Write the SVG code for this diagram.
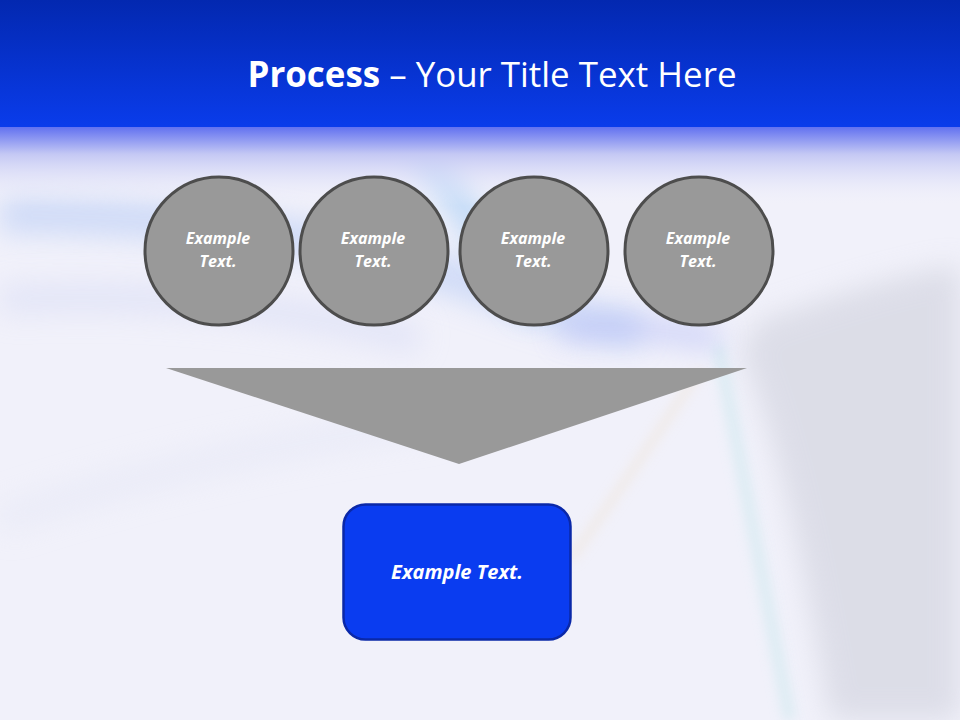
<svg xmlns="http://www.w3.org/2000/svg" width="960" height="720" viewBox="0 0 960 720">
<defs>
<linearGradient id="hdr" x1="0" y1="0" x2="0" y2="1">
<stop offset="0" stop-color="#0328b0"/>
<stop offset="1" stop-color="#0a3ceb"/>
</linearGradient>
<linearGradient id="fade" x1="0" y1="0" x2="0" y2="1">
<stop offset="0" stop-color="#5e6ef0"/>
<stop offset="0.35" stop-color="#c4c8f4"/>
<stop offset="1" stop-color="#f2f2fb" stop-opacity="0"/>
</linearGradient>
<filter id="blur" filterUnits="userSpaceOnUse" x="0" y="0" width="960" height="720"><feGaussianBlur stdDeviation="14"/></filter>
<filter id="blur2" filterUnits="userSpaceOnUse" x="0" y="0" width="960" height="720"><feGaussianBlur stdDeviation="6"/></filter>
<style>
.circ{fill:#999999;stroke:#4d4d4d;stroke-width:3}
.lbl{font-family:"Open Sans","Liberation Sans",sans-serif;font-weight:bold;font-style:italic;fill:#ffffff;text-anchor:middle}
.t15{font-size:16px}
</style>
</defs>
<rect width="960" height="720" fill="#f1f1fa"/>
<g id="background">
<path d="M0,215 C150,215 300,230 430,270 C500,290 560,320 640,330" fill="none" stroke="#bfd0f6" stroke-width="36" opacity="0.7" filter="url(#blur)"/>
<path d="M420,150 C460,200 500,260 540,310" fill="none" stroke="#a6cdf6" stroke-width="28" opacity="0.7" filter="url(#blur)"/>
<path d="M0,300 C150,290 300,310 420,340" fill="none" stroke="#dde0f6" stroke-width="30" opacity="0.7" filter="url(#blur)"/>
<path d="M760,320 C850,290 900,275 960,265 L960,720 L830,720 C810,600 780,440 740,350 Z" fill="#cfd0dc" opacity="0.6" filter="url(#blur)"/>
<path d="M718,345 C735,430 760,560 790,720" fill="none" stroke="#cde8ee" stroke-width="12" opacity="0.6" filter="url(#blur2)"/>
<path d="M700,370 C660,430 620,490 570,560" fill="none" stroke="#efe2d0" stroke-width="8" opacity="0.5" filter="url(#blur2)"/>
<path d="M0,520 C150,470 300,440 440,420" fill="none" stroke="#e6e8f6" stroke-width="30" opacity="0.6" filter="url(#blur)"/>
<path d="M560,330 C620,325 680,330 720,340" fill="none" stroke="#b4bcf6" stroke-width="22" opacity="0.6" filter="url(#blur)"/>
</g>
<rect x="0" y="126" width="960" height="80" fill="url(#fade)"/>
<g id="header">
<rect x="0" y="0" width="960" height="127" fill="url(#hdr)"/>
<text x="492" y="87" font-family="'Open Sans','Liberation Sans',sans-serif" font-size="35" fill="#ffffff" text-anchor="middle" textLength="489" lengthAdjust="spacingAndGlyphs"><tspan font-weight="bold">Process</tspan> – Your Title Text Here</text>
</g>
<g id="connectors">
<polygon id="funnel" points="166,368 747,368 459,464" fill="#999999"/>
</g>
<g id="node1">
<circle class="circ" cx="219" cy="251" r="74"/>
<text class="lbl t15" x="218" y="244">Example</text>
<text class="lbl t15" x="218" y="267">Text.</text>
</g>
<g id="node2">
<circle class="circ" cx="374" cy="251" r="74"/>
<text class="lbl t15" x="373" y="244">Example</text>
<text class="lbl t15" x="373" y="267">Text.</text>
</g>
<g id="node3">
<circle class="circ" cx="534" cy="251" r="74"/>
<text class="lbl t15" x="533" y="244">Example</text>
<text class="lbl t15" x="533" y="267">Text.</text>
</g>
<g id="node4">
<circle class="circ" cx="699" cy="251" r="74"/>
<text class="lbl t15" x="698" y="244">Example</text>
<text class="lbl t15" x="698" y="267">Text.</text>
</g>
<g id="result">
<rect x="343.5" y="504.5" width="227" height="135" rx="22" fill="#0a3cf0" stroke="#0a28a8" stroke-width="2.5"/>
<text class="lbl" x="457" y="579" font-size="20">Example Text.</text>
</g>
</svg>
